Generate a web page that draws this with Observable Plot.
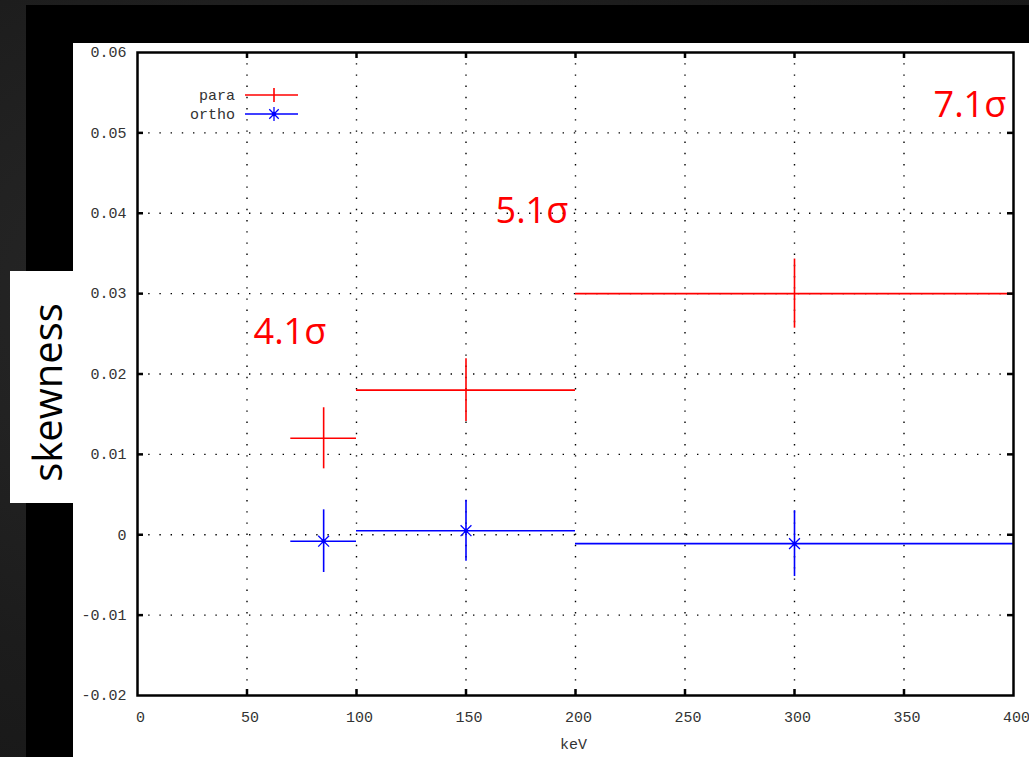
<!DOCTYPE html>
<html>
<head>
<meta charset="utf-8">
<script src="https://cdn.jsdelivr.net/npm/d3@7"></script>
<script src="https://cdn.jsdelivr.net/npm/@observablehq/plot@0.6"></script>
<style>
  html, body { margin: 0; padding: 0; }
  body {
    width: 1029px; height: 757px; overflow: hidden; position: relative;
    background: radial-gradient(ellipse at 30% 40%, #2a2a2a 0%, #1c1c1c 60%, #161616 100%);
  }
  #black { position: absolute; left: 26px; top: 5px; width: 1003px; height: 752px; background: #000; }
  #panel { position: absolute; left: 73px; top: 43px; width: 956px; height: 714px; background: #fff; }
  #ylabbox { position: absolute; left: 10px; top: 271px; width: 63px; height: 232px; background: #fff; }
  #chart { position: absolute; left: 0; top: 0; }
  #legend { position: absolute; left: 150px; top: 84px; font-family: "Liberation Mono", monospace; font-size: 15px; color: #333; }
</style>
</head>
<body>
<div id="black"></div>
<div id="panel"></div>
<div id="ylabbox"></div>
<div id="chart"></div>
<div id="legend"></div>
<script>
// ---- data ----
const xTicks = [0, 50, 100, 150, 200, 250, 300, 350, 400];
const yTicks = [-0.02, -0.01, 0, 0.01, 0.02, 0.03, 0.04, 0.05, 0.06];
const seriesNames = ["para", "ortho"];
const seriesColors = ["#ff0000", "#0000ff"];
const energy = [85, 150, 300];
const binLow = [70, 100, 200];
const binHigh = [100, 200, 400];
const paraSkew = [0.012, 0.018, 0.030];
const paraErr = [0.0038, 0.0039, 0.0043];
const orthoSkew = [-0.0008, 0.0005, -0.0011];
const orthoErr = [0.0039, 0.0038, 0.0041];
const sigmaLabels = ["4.1σ", "5.1σ", "7.1σ"];
const sigmaX = [53, 163.5, 363.5];
const sigmaY = [0.0252, 0.0402, 0.0534];

const rows = [];
energy.forEach((e, i) => {
  rows.push({series: "para", energy: e, lo: binLow[i], hi: binHigh[i], skew: paraSkew[i], err: paraErr[i]});
  rows.push({series: "ortho", energy: e, lo: binLow[i], hi: binHigh[i], skew: orthoSkew[i], err: orthoErr[i]});
});
const ortho = rows.filter(d => d.series === "ortho");
const notes = sigmaLabels.map((t, i) => ({text: t, x: sigmaX[i], y: sigmaY[i]}));

const W = 1029, H = 757, ML = 137, MR = 16, MT = 52, MB = 62;
const fw = W - ML - MR, fh = H - MT - MB;
const fmt = d => d === 0 ? "0" : d.toFixed(2);
const gridStyle = {stroke: "#000", strokeOpacity: 1, strokeWidth: 1.4, strokeDasharray: "1.4,9.8"};

const plot = Plot.plot({
  width: W, height: H,
  marginLeft: ML, marginRight: MR, marginTop: MT, marginBottom: MB,
  style: {background: "transparent", fontFamily: "'Liberation Mono', monospace", fontSize: "15px", color: "#333", overflow: "visible"},
  x: {domain: [0, 400]},
  y: {domain: [-0.02, 0.06]},
  color: {domain: seriesNames, range: seriesColors},
  marks: [
    Plot.gridX(xTicks.slice(1, -1), gridStyle),
    Plot.gridY(yTicks.slice(1, -1), gridStyle),
    Plot.ruleY(rows, {y: "skew", x1: "lo", x2: "hi", stroke: "series", strokeWidth: 1.6}),
    Plot.ruleX(rows, {x: "energy", y1: d => d.skew - d.err, y2: d => d.skew + d.err, stroke: "series", strokeWidth: 1.6}),
    Plot.dot(ortho, {x: "energy", y: "skew", symbol: "times", r: 5, stroke: "series", strokeWidth: 1.3}),
    Plot.dot(ortho, {x: "energy", y: "skew", r: 2.2, fill: "series", stroke: null}),
    Plot.frame({stroke: "#000", strokeWidth: 2.5}),
    Plot.tickX(xTicks.slice(1, -1), {x: d => d, insetTop: fh - 6, stroke: "#000", strokeWidth: 2.5}),
    Plot.tickX(xTicks.slice(1, -1), {x: d => d, insetBottom: fh - 6, stroke: "#000", strokeWidth: 2.5}),
    Plot.tickY(yTicks.slice(1, -1), {y: d => d, insetRight: fw - 6, stroke: "#000", strokeWidth: 2.5}),
    Plot.tickY(yTicks.slice(1, -1), {y: d => d, insetLeft: fw - 6, stroke: "#000", strokeWidth: 2.5}),
    Plot.axisX(xTicks, {tickSize: 0, tickPadding: 16, dx: 3, label: null, tickFormat: d => String(d), fill: "#333"}),
    Plot.axisY(yTicks, {tickSize: 0, tickPadding: 11, label: null, tickFormat: fmt, fill: "#333"}),
    Plot.text(["keV"], {frameAnchor: "bottom", dy: 53, dx: -2, fill: "#333", fontSize: 15}),
    Plot.text(["skewness"], {frameAnchor: "left", textAnchor: "middle", dx: -88, dy: 18.5, rotate: -90, fill: "#000",
      fontFamily: "'Open Sans', sans-serif", fontSize: 40}),
    Plot.text(notes, {x: "x", y: "y", text: "text", textAnchor: "start", fill: "#ff0000",
      fontFamily: "'Open Sans', sans-serif", fontSize: 36})
  ]
});
document.getElementById("chart").appendChild(plot);

// legend
const lg = d3.select("#legend");
const lsvg = lg.append("svg").attr("width", 160).attr("height", 40).style("overflow", "visible");
seriesNames.forEach((name, i) => {
  const y = 11 + i * 19;
  lsvg.append("text").attr("x", 85).attr("y", y).attr("dy", "0.32em").attr("text-anchor", "end")
    .attr("fill", "#333").style("font-family", "'Liberation Mono', monospace").style("font-size", "15px").text(name);
  lsvg.append("line").attr("x1", 95).attr("x2", 148).attr("y1", y).attr("y2", y)
    .attr("stroke", seriesColors[i]).attr("stroke-width", 1.6);
  if (name === "para") {
    lsvg.append("line").attr("x1", 124).attr("x2", 124).attr("y1", y - 7).attr("y2", y + 7)
      .attr("stroke", seriesColors[i]).attr("stroke-width", 1.6);
  } else {
    lsvg.append("line").attr("x1", 124).attr("x2", 124).attr("y1", y - 7).attr("y2", y + 7)
      .attr("stroke", seriesColors[i]).attr("stroke-width", 1.3);
    lsvg.append("path").attr("d", d3.symbol(d3.symbolTimes, 60)()).attr("transform", `translate(124,${y})`)
      .attr("fill", "none").attr("stroke", seriesColors[i]).attr("stroke-width", 1.3);
    lsvg.append("circle").attr("cx", 124).attr("cy", y).attr("r", 2.2).attr("fill", seriesColors[i]);
  }
});
</script>
</body>
</html>
